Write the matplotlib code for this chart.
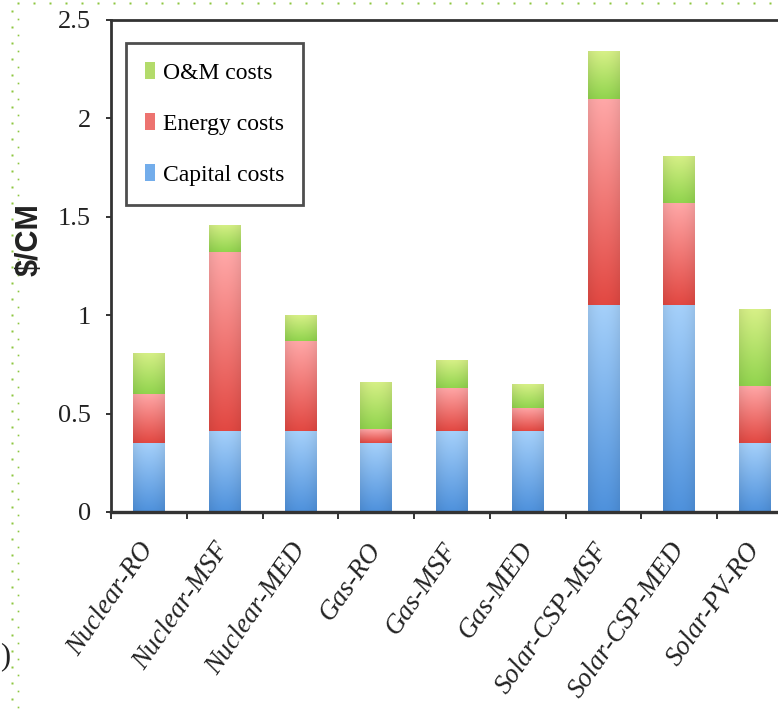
import numpy as np
import matplotlib
matplotlib.use("Agg")
import matplotlib.pyplot as plt
from matplotlib.patches import Patch
from matplotlib.lines import Line2D

# Levelized water cost breakdown per plant configuration ($/CM)
categories = ["Nuclear-RO", "Nuclear-MSF", "Nuclear-MED", "Gas-RO", "Gas-MSF",
              "Gas-MED", "Solar-CSP-MSF", "Solar-CSP-MED", "Solar-PV-RO"]
capital_costs = [0.35, 0.41, 0.41, 0.35, 0.41, 0.41, 1.05, 1.05, 0.35]
energy_costs = [0.25, 0.91, 0.46, 0.07, 0.22, 0.12, 1.05, 0.52, 0.29]
om_costs = [0.21, 0.14, 0.13, 0.24, 0.14, 0.12, 0.24, 0.24, 0.39]
y_ticks = [0, 0.5, 1, 1.5, 2, 2.5]
y_tick_labels = ["0", "0.5", "1", "1.5", "2", "2.5"]
y_label = "$/CM"

SERIF = ["Liberation Serif", "DejaVu Serif"]
SANS = ["Liberation Sans", "DejaVu Sans"]

# (top colour, bottom colour) of the vertical gradient for each series
GRAD_CAPITAL = ((165, 208, 250), (78, 145, 220))
GRAD_ENERGY = ((255, 168, 168), (226, 72, 66))
GRAD_OM = ((215, 240, 135), (145, 212, 78))

W, H = 778, 713
fig = plt.figure(figsize=(W / 100, H / 100), dpi=100)
fig.patch.set_facecolor("white")

# axes box: left spine at x=111 px, baseline at y=512 px, top at y=20 px;
# the frame runs past the right edge of the figure
ax = fig.add_axes([111 / W, (H - 512) / H, (793 - 111) / W, (512 - 20) / H])

bar_width = 0.42
x_pos = np.arange(len(categories)) + 0.5


def gradient_bar(ax, x, bottom, height, width, grad):
    top_rgb, bot_rgb = grad
    bar = ax.bar(x, height, width, bottom=bottom, color="none",
                 edgecolor="none", zorder=2)[0]
    t = np.linspace(0, 1, 128)[:, None]
    cols = (np.array(bot_rgb)[None, :] * (1 - t)
            + np.array(top_rgb)[None, :] * t) / 255.0
    xs = np.linspace(-1, 1, 32)
    shade = 1 - 0.07 * xs ** 2
    img = np.clip(cols[:, None, :] * shade[None, :, None], 0, 1)
    im = ax.imshow(img, extent=(x - width / 2, x + width / 2, bottom, bottom + height),
                   origin="lower", aspect="auto", interpolation="bilinear", zorder=2)
    im.set_clip_path(bar)
    return bar


for i, x in enumerate(x_pos):
    b0 = 0.0
    gradient_bar(ax, x, b0, capital_costs[i], bar_width, GRAD_CAPITAL)
    b0 += capital_costs[i]
    gradient_bar(ax, x, b0, energy_costs[i], bar_width, GRAD_ENERGY)
    b0 += energy_costs[i]
    gradient_bar(ax, x, b0, om_costs[i], bar_width, GRAD_OM)

ax.set_xlim(0, len(categories))
ax.set_ylim(0, 2.5)

# y axis
ax.set_yticks(y_ticks)
ax.set_yticklabels(y_tick_labels, family=SERIF, fontsize=19, color="#222222",
                   va="center_baseline")
ax.tick_params(axis="y", direction="out", length=3.8, width=1.4, color="#333333",
               pad=10.5)

# x axis: ticks at category boundaries, labels at centres
ax.set_xticks(np.arange(len(categories) + 1))
ax.set_xticklabels([])
ax.tick_params(axis="x", which="major", direction="out", length=5, width=1.4,
               color="#333333")
ax.set_xticks(x_pos, minor=True)
ax.set_xticklabels(categories, minor=True, rotation=55, ha="right", va="center",
                   rotation_mode="anchor", family=SERIF, style="italic",
                   fontsize=19.5, color="#222222")
ax.tick_params(axis="x", which="minor", length=0, pad=24)

for side in ["left", "bottom", "top", "right"]:
    ax.spines[side].set_color("#333333")
    ax.spines[side].set_linewidth(2)
ax.spines["bottom"].set_linewidth(2.4)

fig.text(30 / W, 1 - 240 / H, y_label, rotation=90, fontweight="bold",
         fontsize=22, family=SANS, ha="center", va="center", color="#222222")

handles = [Patch(facecolor=(0.70, 0.86, 0.42), edgecolor="none"),
           Patch(facecolor=(0.93, 0.45, 0.44), edgecolor="none"),
           Patch(facecolor=(0.45, 0.68, 0.92), edgecolor="none")]
leg = ax.legend(handles, ["O&M costs", "Energy costs", "Capital costs"],
                loc="upper left", bbox_to_anchor=(0.022, 0.953), borderaxespad=0,
                frameon=True, fancybox=False, prop={"family": SERIF, "size": 17},
                handlelength=0.42, handleheight=0.7, handletextpad=0.35,
                labelspacing=1.25, borderpad=0.8)
leg.get_frame().set_edgecolor("#222222")
leg.get_frame().set_linewidth(2)

# dotted page border (top row and two staggered left columns)
top_x = np.arange(18, W, 16)
fig.add_artist(Line2D(top_x / W, np.full(top_x.shape, 1 - 3 / H), ls="none",
                      marker="s", ms=1.5, mec="none", mfc="#8dc63f"))
col_a = np.arange(10.7, H, 16)
fig.add_artist(Line2D(np.full(col_a.shape, 11.7 / W), 1 - col_a / H, ls="none",
                      marker="s", ms=1.5, mec="none", mfc="#8dc63f"))
col_b = np.arange(18.7, H, 16)
fig.add_artist(Line2D(np.full(col_b.shape, 18.3 / W), 1 - col_b / H, ls="none",
                      marker="s", ms=1.2, mec="none", mfc="#8dc63f"))

# closing bracket of the panel tag at the left margin
fig.text(0.5 / W, 1 - 657 / H, ")", ha="left", va="center", fontsize=22,
         family=SERIF, color="#222222")

fig.savefig("out.png", dpi=100, facecolor="white")
